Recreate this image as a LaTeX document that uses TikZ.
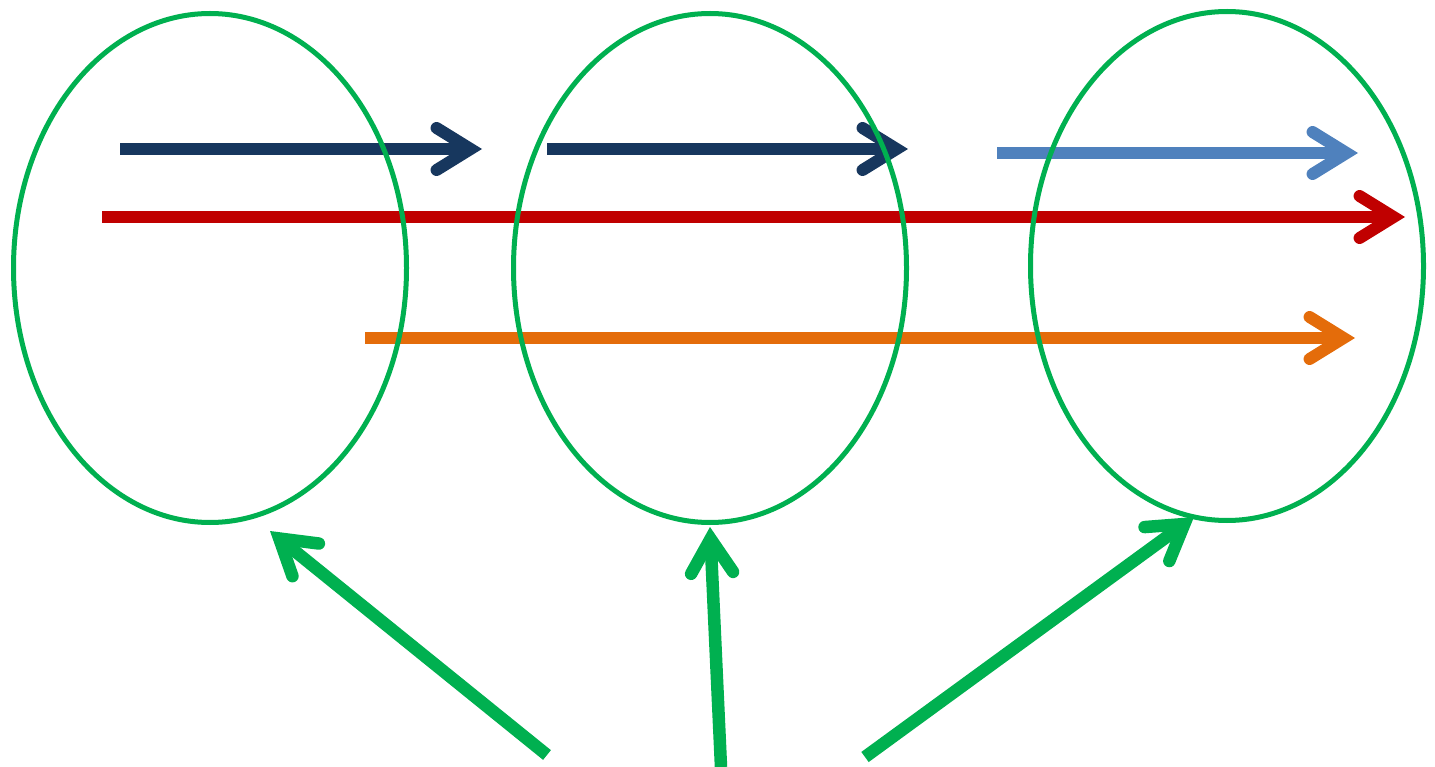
\documentclass[tikz,border=0pt]{standalone}
\usetikzlibrary{arrows.meta,shapes.geometric}
\definecolor{navy}{HTML}{17375E}
\definecolor{lblue}{HTML}{4F81BD}
\definecolor{dred}{HTML}{C00000}
\definecolor{orng}{HTML}{E46C0A}
\definecolor{grn}{HTML}{00B050}
\tikzset{
  flow/.style={line width=12pt,
    -{Straight Barb[length=34pt,width=42pt,line cap=round,line join=miter]}},
  ring/.style={ellipse,draw=grn,line width=5pt,inner sep=0pt,
    minimum width=393pt,minimum height=509pt},
  pointer/.style={flow,draw=grn,line width=12.5pt},
}
\begin{document}
\begin{tikzpicture}[x=1pt,y=-1pt]
\useasboundingbox (0,0) rectangle (1435,767);
% endpoints
\coordinate (n1s) at (120,149); \coordinate (n1e) at (482,149);
\coordinate (n2s) at (547,149); \coordinate (n2e) at (908,149);
\coordinate (bs) at (997,153); \coordinate (be) at (1358,153);
\coordinate (rs) at (102,217); \coordinate (re) at (1405,217);
\coordinate (os) at (365,338); \coordinate (oe) at (1355,338);
\coordinate (g1s) at (547,755); \coordinate (g1e) at (270,531);
\coordinate (g2s) at (721,767); \coordinate (g2e) at (710,527);
\coordinate (g3s) at (865,757); \coordinate (g3e) at (1194,517);
% horizontal arrows
\draw[flow,navy] (n1s) -- (n1e);
\draw[flow,navy] (n2s) -- (n2e);
\draw[flow,lblue] (bs) -- (be);
\draw[flow,dred] (rs) -- (re);
\draw[flow,orng] (os) -- (oe);
% ellipses
\node[ring] (e1) at (210,268) {};
\node[ring] (e2) at (710,268) {};
\node[ring] (e3) at (1227,266) {};
% green pointers
\draw[pointer] (g1s) -- (g1e);
\draw[pointer] (g2s) -- (g2e);
\draw[pointer] (g3s) -- (g3e);
\end{tikzpicture}
\end{document}
